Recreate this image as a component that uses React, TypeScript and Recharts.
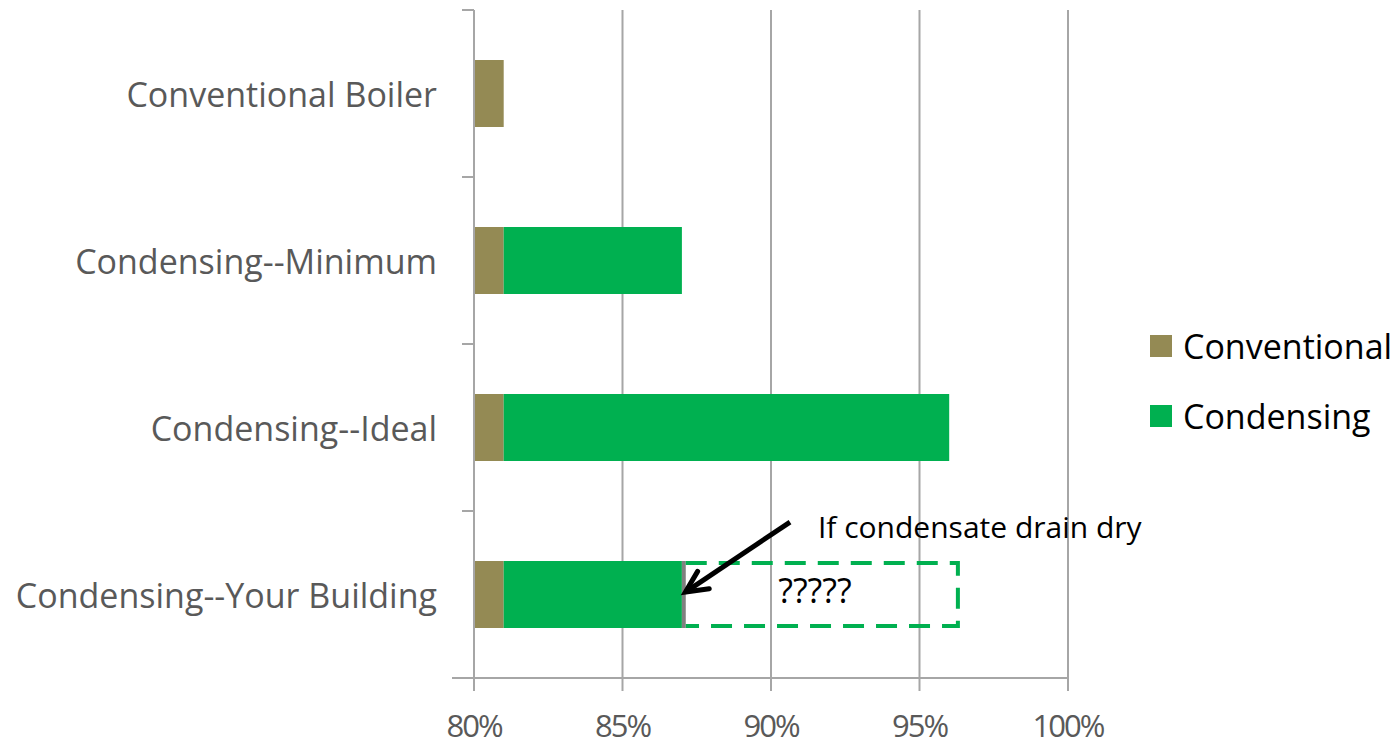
import React from 'react';
import { BarChart, Bar, XAxis, YAxis, CartesianGrid, Legend, ReferenceLine, ReferenceDot } from 'recharts';

const FONT = '"Open Sans", sans-serif';

const categories = ['Conventional Boiler', 'Condensing--Minimum', 'Condensing--Ideal', 'Condensing--Your Building'];
const conventional = [81, 81, 81, 81];
const condensing = [0, 6, 15, 6];
const drainDry = [0, 0, 0, 0.13];
const unknown = [0, 0, 0, 9.23];
const xTicks = [80, 85, 90, 95, 100];
const seriesNames = ['Conventional', 'Condensing'];
const seriesColors = ['#948A54', '#00B050'];

const data = categories.map((c, i) => ({
  name: c,
  conventional: conventional[i],
  condensing: condensing[i],
  drainDry: drainDry[i],
  unknown: unknown[i],
}));

const AXIS = '#a6a6a6';

function CatTick(props: any) {
  const { x, y, payload, index } = props;
  const off = payload && payload.offset != null ? payload.offset : 83;
  return (
    <g>
      <text x={x - 37} y={y} textAnchor="end" dominantBaseline="central" fontSize={34} fill="#595959" fontFamily={FONT}>
        {payload.value}
      </text>
      <line x1={x - 12} x2={x} y1={y - off} y2={y - off} stroke={AXIS} strokeWidth={2} />
      {index === categories.length - 1 && (
        <line x1={x - 22} x2={x} y1={y + off} y2={y + off} stroke={AXIS} strokeWidth={2} />
      )}
    </g>
  );
}

function XTick(props: any) {
  const { x, y, payload } = props;
  return (
    <text x={x} y={y} dy="0.71em" textAnchor="middle" fontSize={31} letterSpacing={-2} fill="#595959" fontFamily={FONT}>
      {`${payload.value}%`}
    </text>
  );
}

function UnknownShape(props: any) {
  const { x, y, width, height } = props;
  if (!width || width < 0.5) return null;
  return (
    <path
      d={`M${x},${y + 2} H${x + width - 2} V${y + height - 2} H${x}`}
      fill="none"
      stroke="#00B050"
      strokeWidth={4}
      strokeDasharray="21 12"
    />
  );
}

function GreyShape(props: any) {
  const { x, y, width, height } = props;
  if (!width || width < 0.5) return null;
  return <rect x={x} y={y} width={width} height={height} fill="#808080" />;
}

function ArrowShape(props: any) {
  const { x1, y1, x2, y2 } = props;
  if (x1 == null) return null;
  const ang = Math.atan2(y2 - y1, x2 - x1);
  const L = 24;
  const a1 = ang + Math.PI - 0.45;
  const a2 = ang + Math.PI + 0.45;
  return (
    <g>
      <line x1={x1} y1={y1} x2={x2} y2={y2} stroke="#000" strokeWidth={5} />
      <polyline
        points={`${x2 + L * Math.cos(a1)},${y2 + L * Math.sin(a1)} ${x2},${y2} ${x2 + L * Math.cos(a2)},${y2 + L * Math.sin(a2)}`}
        fill="none"
        stroke="#000"
        strokeWidth={5}
        strokeLinecap="round"
      />
    </g>
  );
}

const note1 = 'If condensate drain dry';
const note2 = '?????';

function LegendContent() {
  return (
    <div style={{ fontFamily: FONT }}>
      {seriesNames.map((n, i) => (
        <div key={n} style={{ display: 'flex', alignItems: 'center', height: 70 }}>
          <div style={{ width: 22, height: 22, background: seriesColors[i], marginRight: 11 }} />
          <span style={{ fontSize: 34, color: '#000' }}>{n}</span>
        </div>
      ))}
    </div>
  );
}

export default function App() {
  return (
    <div style={{ position: 'absolute', left: 0, top: 0, background: '#fff' }}>
      <BarChart
        width={1400}
        height={748}
        data={data}
        layout="vertical"
        margin={{ top: 10, right: 332, bottom: 0, left: 0 }}
        barSize={67}
      >
        <CartesianGrid horizontal={false} vertical={true} stroke={AXIS} strokeWidth={2} />
        <XAxis
          type="number"
          domain={[80, 100]}
          ticks={xTicks}
          allowDataOverflow
          height={70}
          tickSize={13}
          tickMargin={24}
          axisLine={{ stroke: AXIS, strokeWidth: 2 }}
          tickLine={{ stroke: AXIS, strokeWidth: 2 }}
          tick={<XTick />}
        />
        <YAxis
          yAxisId="cat"
          type="category"
          dataKey="name"
          width={474}
          tickSize={0}
          tickMargin={0}
          tickLine={false}
          axisLine={{ stroke: AXIS, strokeWidth: 2 }}
          tick={<CatTick />}
          interval={0}
        />
        <YAxis yAxisId="num" type="number" domain={[0, 3]} allowDataOverflow reversed hide orientation="right" />
        <Legend
          content={<LegendContent />}
          layout="horizontal"
          verticalAlign="middle"
          align="center"
          wrapperStyle={{ left: 1150, top: 311, width: 250 }}
        />
        <Bar yAxisId="cat" dataKey="conventional" name="Conventional" stackId="a" fill={seriesColors[0]} isAnimationActive={false} />
        <Bar yAxisId="cat" dataKey="condensing" name="Condensing" stackId="a" fill={seriesColors[1]} isAnimationActive={false} />
        <Bar yAxisId="cat" dataKey="drainDry" stackId="a" fill="#808080" legendType="none" shape={<GreyShape />} isAnimationActive={false} />
        <Bar yAxisId="cat" dataKey="unknown" stackId="a" fill="none" legendType="none" shape={<UnknownShape />} isAnimationActive={false} />
        <ReferenceLine
          yAxisId="num"
          segment={[{ x: 90.64, y: 0.70 }, { x: 87.12, y: 0.386 }]}
          shape={<ArrowShape />}
          ifOverflow="visible"
        />
        <ReferenceDot
          yAxisId="num"
          x={91.58}
          y={0.629}
          r={0}
          ifOverflow="visible"
          shape={(p: any) => (
            <text x={p.cx} y={p.cy} fontSize={30} fill="#000" fontFamily={FONT}>{note1}</text>
          )}
        />
        <ReferenceDot
          yAxisId="num"
          x={91.48}
          y={0.337}
          r={0}
          ifOverflow="visible"
          shape={(p: any) => (
            <text x={p.cx} y={p.cy} textAnchor="middle" fontSize={34} fill="#000" fontFamily={FONT}>{note2}</text>
          )}
        />
      </BarChart>
    </div>
  );
}
